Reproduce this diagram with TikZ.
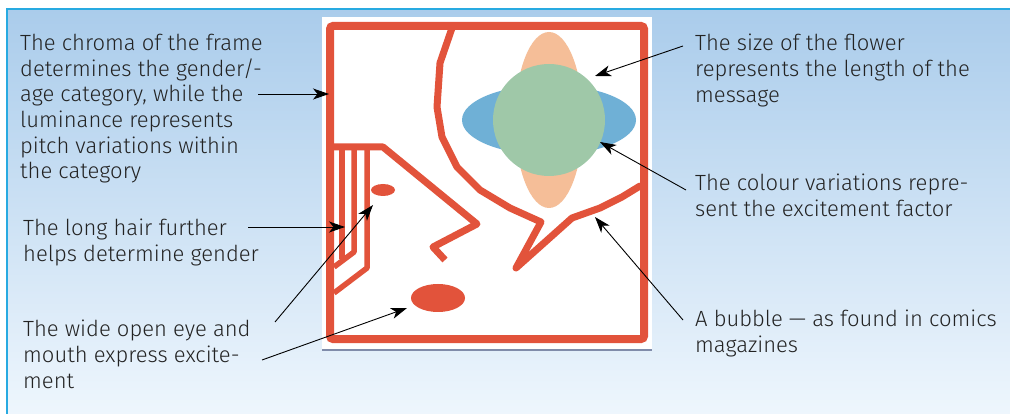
\documentclass[tikz,border=0pt]{standalone}
\usepackage{fontspec}
\setmainfont{Fira Sans Light}
\usetikzlibrary{arrows.meta}
\definecolor{bgtop}{RGB}{170,204,235}
\definecolor{bgbot}{RGB}{238,246,253}
\definecolor{edgecyan}{RGB}{40,170,225}
\definecolor{framered}{RGB}{226,83,59}
\definecolor{petal}{RGB}{245,190,152}
\definecolor{leafblue}{RGB}{111,176,214}
\definecolor{heartgreen}{RGB}{159,200,168}
\definecolor{inkgray}{RGB}{35,35,35}
\definecolor{panelline}{RGB}{128,140,170}
\tikzset{
  redline/.style={draw=framered, line width=7pt, line join=round, line cap=round},
  hairline/.style={draw=framered, line width=5.5pt, line join=round},
  caption/.style={anchor=north west, inner sep=0pt, align=left, text=inkgray,
    font=\fontsize{22}{25.6}\selectfont, execute at begin node=\strut},
  pointer/.style={draw=black, line width=0.9pt,
    -{Stealth[length=16pt,width=11pt,inset=4.5pt]}}
}
% first baseline sits 0.7 x 25.6 = 17.92 below the node top
\begin{document}
\begin{tikzpicture}[x=1pt,y=-1pt]
\useasboundingbox (0,0) rectangle (1010,414);
% backdrop
\fill[white] (0,0) rectangle (1010,414);
\shade[top color=bgtop, bottom color=bgbot] (7,9) rectangle (1010,414);
\draw[edgecyan, line width=1.5pt] (7,414) -- (7,9) -- (1010,9);
% picture panel
\fill[white] (322,17) rectangle (652,350);
\draw[panelline, line width=1.2pt] (322,350) -- (652,350);
% flower
\fill[petal] (549,120) ellipse [x radius=34, y radius=88];
\fill[leafblue] (549,120) ellipse [x radius=87, y radius=35];
\fill[heartgreen] (549,120) circle [radius=56];
% frame
\draw[draw=framered, line width=8pt, rounded corners=3pt] (330,26) rectangle (644,339);
% speech bubble outline
\draw[redline] (452,28) -- (440,63) -- (437,107) -- (442,137) -- (457,167)
  -- (480,190) -- (510,208) -- (541,222) -- (516,268) -- (572,218)
  -- (600,208) -- (622,197) -- (640,186);
% face: brow and nose
\draw[redline, line cap=butt] (330,147) -- (383,147) -- (477,224) -- (433,247) -- (445,260);
% hair strands
\draw[hairline] (342,150) -- (342,259);
\draw[hairline] (354,150) -- (354,252) -- (334,267);
\draw[hairline] (367,150) -- (367,268) -- (334,293);
% eye and mouth
\fill[framered] (383,190) ellipse [x radius=12, y radius=6];
\fill[framered] (438,298) ellipse [x radius=27, y radius=14];
% captions
\node[caption] (tframe) at (20,34.1) {The chroma of the frame\\determines the gender/-\\age category, while the\\luminance represents\\pitch variations within\\the category};
\node[caption] (thair) at (23,219.1) {The long hair further\\helps determine gender};
\node[caption] (tface) at (23,320.1) {The wide open eye and\\mouth express excite-\\ment};
\node[caption] (tsize) at (695,34.1) {The size of the flower\\represents the length of the\\message};
\node[caption] (tcolour) at (695,174.1) {The colour variations repre-\\sent the excitement factor};
\node[caption] (tbubble) at (695,310.1) {A bubble --- as found in comics\\magazines};
% pointer anchors
\coordinate (sframe) at (258,94);   \coordinate (eframe) at (329,94);
\coordinate (shair) at (248,227);   \coordinate (ehair) at (345,227);
\coordinate (seye) at (275,322);    \coordinate (eeye) at (373,205);
\coordinate (smouth) at (262,360);  \coordinate (emouth) at (407,308);
\coordinate (ssize) at (683,46);    \coordinate (esize) at (595,76);
\coordinate (scolour) at (686,190); \coordinate (ecolour) at (600,142);
\coordinate (sbubble) at (683,320); \coordinate (ebubble) at (595,217);
\draw[pointer] (sframe) -- (eframe);
\draw[pointer] (shair) -- (ehair);
\draw[pointer] (seye) -- (eeye);
\draw[pointer] (smouth) -- (emouth);
\draw[pointer] (ssize) -- (esize);
\draw[pointer] (scolour) -- (ecolour);
\draw[pointer] (sbubble) -- (ebubble);
\end{tikzpicture}
\end{document}
